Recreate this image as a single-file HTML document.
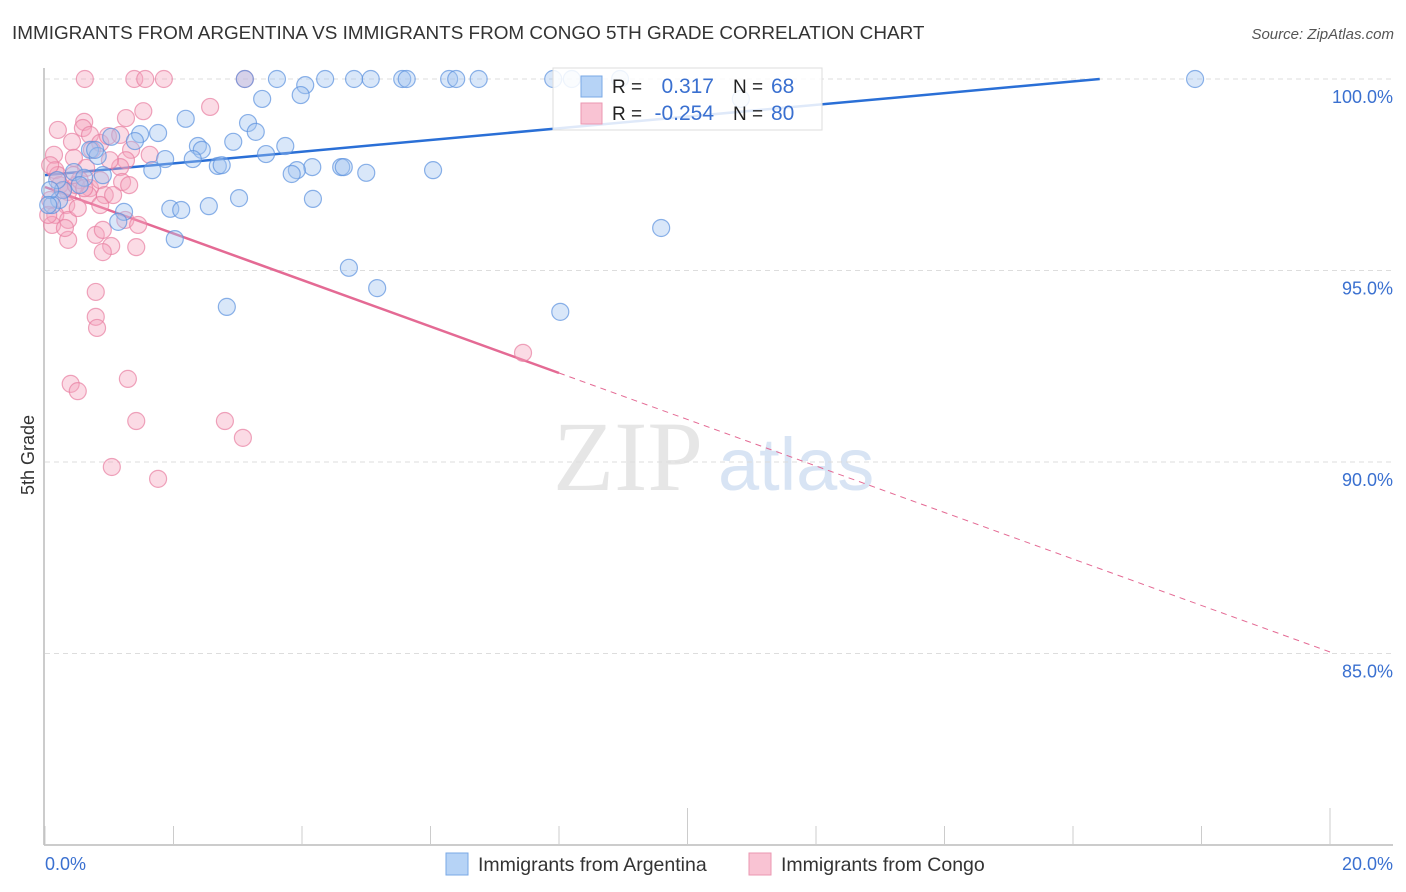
<!DOCTYPE html>
<html><head><meta charset="utf-8"><style>
body{margin:0;background:#fff;font-family:"Liberation Sans",sans-serif;}
svg{display:block}
</style></head><body>
<svg id="chart" width="1406" height="892" xmlns="http://www.w3.org/2000/svg">
<text x="12" y="39" font-size="18.9" fill="#333">IMMIGRANTS FROM ARGENTINA VS IMMIGRANTS FROM CONGO 5TH GRADE CORRELATION CHART</text>
<text x="1394" y="39" font-size="15" fill="#555" font-style="italic" text-anchor="end">Source: ZipAtlas.com</text>
<text x="553" y="490" font-size="100" fill="#e6e6e6" font-family="Liberation Serif">ZIP</text>
<text x="718" y="490" font-size="74" fill="#d8e4f4">atlas</text>
<text transform="translate(34,455) rotate(-90)" font-size="18" fill="#333" text-anchor="middle">5th Grade</text>
<g id="grid"></g><g id="axes"></g><g id="lines"></g><g id="pts"></g>
<g>
<rect x="553" y="68" width="269" height="62" fill="#fff" fill-opacity="0.85" stroke="#ddd"/>
<rect x="581" y="76" width="21" height="21" fill="#b6d3f6" stroke="#7aa8e6"/>
<rect x="581" y="103" width="21" height="21" fill="#f9c3d3" stroke="#eb97b2"/>
<text x="612" y="93" font-size="19" fill="#222">R = </text><text x="714" y="93" font-size="21" fill="#3a70d0" text-anchor="end">0.317</text>
<text x="733" y="93" font-size="19" fill="#222">N = </text><text x="771" y="93" font-size="21" fill="#3a70d0">68</text>
<text x="612" y="120" font-size="19" fill="#222">R = </text><text x="714" y="120" font-size="21" fill="#3a70d0" text-anchor="end">-0.254</text>
<text x="733" y="120" font-size="19" fill="#222">N = </text><text x="771" y="120" font-size="21" fill="#3a70d0">80</text>
</g>
<g>
<rect x="446" y="853" width="22" height="22" fill="#b6d3f6" stroke="#7aa8e6"/>
<text x="478" y="871" font-size="19.5" fill="#333">Immigrants from Argentina</text>
<rect x="749" y="853" width="22" height="22" fill="#f9c3d3" stroke="#eb97b2"/>
<text x="781" y="871" font-size="19.5" fill="#333">Immigrants from Congo</text>
</g>
</svg>
<script>
const blueX=[3.11,3.61,4.05,4.36,4.81,5.07,5.56,5.63,6.29,6.40,6.75,7.91,8.20,8.95,17.90,3.38,3.98,10.83,2.19,3.16,3.28,1.03,1.48,1.76,1.40,0.70,0.82,1.87,2.38,2.44,2.93,3.74,3.44,2.30,2.69,2.75,4.16,4.61,4.65,3.92,3.84,5.00,6.04,1.67,0.90,0.45,0.28,0.22,0.11,3.02,4.17,1.23,2.55,1.95,2.12,1.14,9.59,2.02,4.73,5.17,2.83,8.02,0.61,0.54,0.19,0.08,0.05,0.78];
const blueY=[100,100,99.84,100,100,100,100,100,100,100,100,100,100,100,100,99.48,99.58,99.48,98.96,98.85,98.62,98.49,98.56,98.59,98.38,98.15,97.99,97.91,98.25,98.15,98.36,98.25,98.04,97.91,97.73,97.75,97.70,97.70,97.70,97.62,97.52,97.55,97.62,97.62,97.49,97.57,97.10,96.84,96.71,96.89,96.87,96.53,96.68,96.61,96.58,96.27,96.11,95.82,95.07,94.54,94.05,93.92,97.42,97.23,97.36,97.10,96.71,98.15];
const pinkX=[0.62,1.39,1.56,1.85,3.11,2.57,1.53,1.26,0.20,0.61,0.59,0.70,0.86,0.98,1.17,1.34,1.26,0.14,0.42,0.16,0.45,0.64,1.17,1.20,1.31,0.54,0.70,0.86,0.23,0.36,0.93,0.67,0.33,0.16,0.11,0.36,0.86,0.51,0.79,0.36,0.90,1.25,1.45,1.03,0.90,1.42,0.79,0.79,0.81,0.40,0.51,1.29,1.42,2.80,3.08,1.04,1.76,7.44,0.28,0.48,0.61,1.01,0.73,1.63,0.44,0.20,0.08,0.08,0.05,0.31,1.06];
const pinkY=[100,100,100,100,100,99.27,99.16,98.98,98.67,98.88,98.72,98.54,98.33,98.51,98.54,98.15,97.88,98.02,98.36,97.62,97.94,97.68,97.70,97.31,97.23,97.36,97.15,97.36,97.23,97.05,96.97,96.97,96.71,96.45,96.19,96.32,96.71,96.63,95.93,95.80,96.06,96.32,96.19,95.64,95.48,95.61,94.44,93.79,93.50,92.04,91.85,92.17,91.07,91.07,90.63,89.87,89.56,92.85,97.10,97.23,97.15,97.88,98.15,98.02,97.49,97.49,97.75,96.84,96.45,96.11,96.97];
const blueFit=[97.49,0.1529];   // intercept, slope per %
const pinkFit=[97.18,-0.607];
const pinkSolidEnd=8.0;
const yTicks=[100,95,90,85];
const yTickLabels=["100.0%","95.0%","90.0%","85.0%"];
const xTicks=[0,2,4,6,8,10,12,14,16,18,20];

const X=v=>45+v*64.25, Y=v=>79+(100-v)*38.3;
const NS="http://www.w3.org/2000/svg";
function mk(parent,tag,attrs){const e=document.createElementNS(NS,tag);for(const k in attrs)e.setAttribute(k,attrs[k]);document.getElementById(parent).appendChild(e);return e;}
yTicks.forEach((t,i)=>{
  const g=mk('grid','line',{x1:45,x2:1393,y1:Y(t),y2:Y(t),stroke:'#ddd','stroke-dasharray':'5,4'});
  
  
  const tx=mk('grid','text',{x:1393,y:Y(t)+24,'font-size':18,fill:'#3a70d0','text-anchor':'end'});
  tx.textContent=yTickLabels[i];
  
  
});
let a=mk('axes','line',{x1:44,x2:44,y1:68,y2:845,stroke:'#bbb','stroke-width':1.5});


a=mk('axes','line',{x1:44,x2:1393,y1:845,y2:845,stroke:'#bbb','stroke-width':1.5});


xTicks.forEach(t=>{
  const l=mk('axes','line',{x1:X(t),x2:X(t),y1:(t%10==0&&t>0)?808:826,y2:845,stroke:'#ccc'});
  
  
});
let t0=mk('axes','text',{x:45,y:870,'font-size':18,fill:'#3a70d0'});t0.textContent='0.0%';


let t1=mk('axes','text',{x:1393,y:870,'font-size':18,fill:'#3a70d0','text-anchor':'end'});t1.textContent='20.0%';



function dot(x,y,fill,stroke,name){const c=mk('pts','circle',{cx:X(x),cy:Y(y),r:8.5,fill:fill,'fill-opacity':0.4,stroke:stroke,'stroke-opacity':0.7,'stroke-width':1.2});

}
pinkX.forEach((x,i)=>dot(x,pinkY[i],'#f4a6bf','#e87fa1','point-congo'));
blueX.forEach((x,i)=>dot(x,blueY[i],'#9fc4f0','#5b92de','point-argentina'));

const bEnd=Math.min(20,(100-blueFit[0])/blueFit[1]);
let ln=mk('lines','line',{x1:X(0),y1:Y(blueFit[0]),x2:X(bEnd),y2:Y(blueFit[0]+blueFit[1]*bEnd),stroke:'#2a6fd6','stroke-width':2.5});


ln=mk('lines','line',{x1:X(0),y1:Y(pinkFit[0]),x2:X(pinkSolidEnd),y2:Y(pinkFit[0]+pinkFit[1]*pinkSolidEnd),stroke:'#e46a94','stroke-width':2.5});


ln=mk('lines','line',{x1:X(pinkSolidEnd),y1:Y(pinkFit[0]+pinkFit[1]*pinkSolidEnd),x2:X(20),y2:Y(pinkFit[0]+pinkFit[1]*20),stroke:'#e46a94','stroke-width':1,'stroke-dasharray':'6,5'});


</script>
</body></html>
